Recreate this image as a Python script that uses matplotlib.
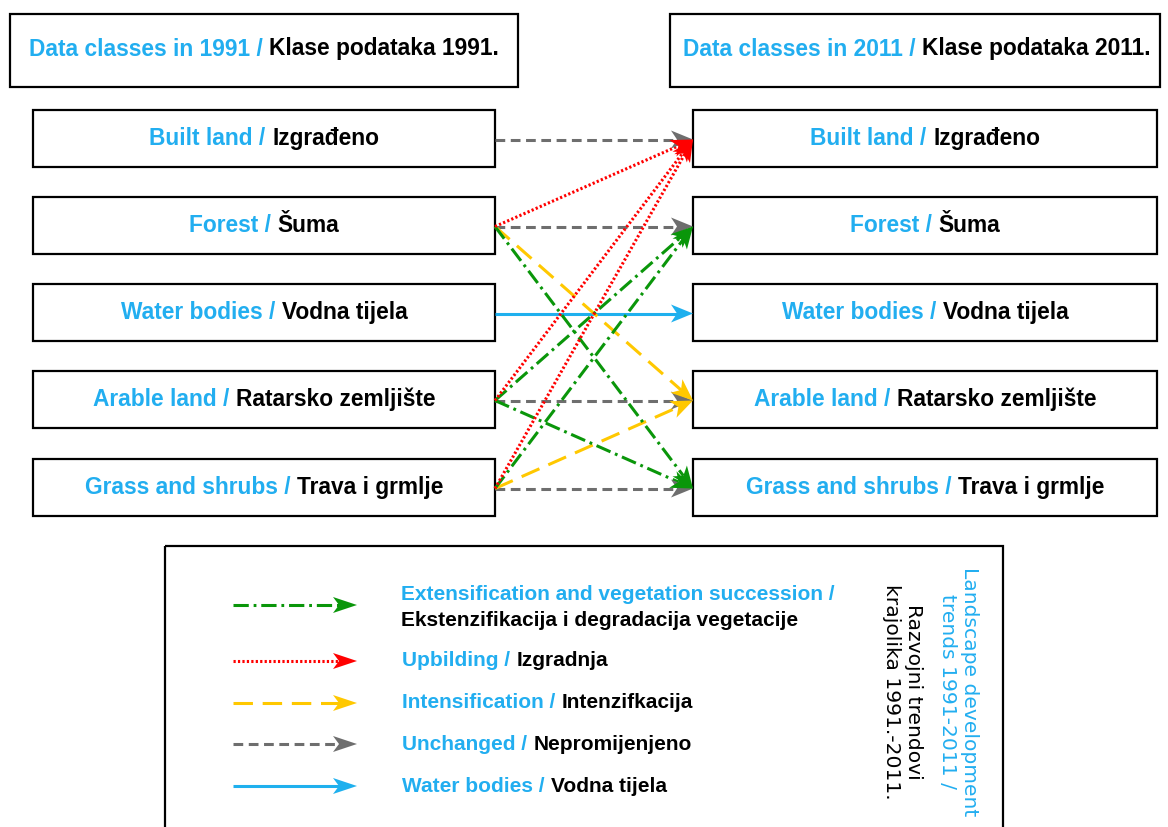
import numpy as np
import matplotlib
matplotlib.use("Agg")
import matplotlib.pyplot as plt
from matplotlib.patches import Rectangle, Polygon

# ── Data ─────────────────────────────────────────────────────────────────────
classes_en = ["Built land", "Forest", "Water bodies", "Arable land", "Grass and shrubs"]
classes_hr = ["Izgrađeno", "Šuma", "Vodna tijela", "Ratarsko zemljište", "Trava i grmlje"]

header_en = ["Data classes in 1991", "Data classes in 2011"]
header_hr = ["Klase podataka 1991.", "Klase podataka 2011."]

# transitions 1991 -> 2011 (source index, target index, trend)
flow_src = [0, 1, 3, 4, 2, 1, 4, 1, 3, 3, 4, 1, 3, 4]
flow_dst = [0, 1, 3, 4, 2, 3, 3, 4, 1, 4, 1, 0, 0, 0]
flow_kind = ["unch", "unch", "unch", "unch", "water", "int", "int",
             "ext", "ext", "ext", "ext", "up", "up", "up"]

legend_kind = ["ext", "up", "int", "unch", "water"]
legend_en = ["Extensification and vegetation succession /", "Upbilding", "Intensification",
             "Unchanged", "Water bodies"]
legend_hr = ["Ekstenzifikacija i degradacija vegetacije", "Izgradnja", "Intenzifkacija",
             "Nepromijenjeno", "Vodna tijela"]

side_en = "Landscape development\ntrends 1991-2011 /"
side_hr = "Razvojni trendovi\nkrajolika 1991.-2011."

# ── Styles ───────────────────────────────────────────────────────────────────
BLUE = "#22aef0"
styles = {
    "ext": dict(color="#0a960a", ls=(0, (11, 3.5, 2, 3.5))),
    "up": dict(color="#ff0000", ls=(0, (1.6, 1.6))),
    "int": dict(color="#ffc800", ls=(0, (14, 7))),
    "unch": dict(color="#6e6e6e", ls=(0, (7, 4))),
    "water": dict(color="#1fb0ee", ls="-"),
}
draw_order = ["unch", "water", "int", "ext", "up"]

plt.rcParams.update({
    "lines.scale_dashes": False,
    "font.family": ["Liberation Sans", "DejaVu Sans"],
})

W, H = 1168, 827
fig = plt.figure(figsize=(W / 100, H / 100), dpi=100)
ax = fig.add_axes([0, 0, 1, 1])
ax.set_xlim(0, W)
ax.set_ylim(H, 0)
ax.axis("off")
renderer = fig.canvas.get_renderer()

# ── Layout (pixels) ──────────────────────────────────────────────────────────
left_x0, left_x1 = 33, 495
right_x0, right_x1 = 693, 1157
row_top = [110, 197, 284, 371, 459]
row_h = 57
row_cy = [t + row_h / 2 for t in row_top]


def box(x0, y0, x1, y1, lw=1.6):
    ax.add_patch(Rectangle((x0, y0), x1 - x0, y1 - y0, fill=False,
                           edgecolor="black", linewidth=lw, zorder=2))


def two_tone(x, y, a, b, size=16.4, center=True, **kw):
    t1 = ax.text(x, y, a, color=BLUE, ha="left", va="center", fontsize=size,
                 fontweight="bold", **kw)
    t2 = ax.text(x, y, b, color="black", ha="left", va="center", fontsize=size,
                 fontweight="bold", **kw)
    w1 = t1.get_window_extent(renderer).width
    w2 = t2.get_window_extent(renderer).width
    gap = size * 0.30 * 100 / 72
    start = x - (w1 + gap + w2) / 2 if center else x
    t1.set_x(start)
    t2.set_x(start + w1 + gap)


def arrow(x0, y0, x1, y1, kind, lw=2.2, head_len=22, head_w=9, notch=6):
    st = styles[kind]
    d = np.array([x1 - x0, y1 - y0], dtype=float)
    L = np.hypot(*d)
    u = d / L
    n = np.array([-u[1], u[0]])
    tip = np.array([x1, y1], dtype=float)
    base = tip - u * head_len
    notch_pt = base + u * notch
    ax.plot([x0, notch_pt[0]], [y0, notch_pt[1]], color=st["color"], lw=lw,
            linestyle=st["ls"], solid_capstyle="butt", dash_capstyle="butt", zorder=3)
    ax.add_patch(Polygon([tip, base + n * head_w, notch_pt, base - n * head_w],
                         closed=True, facecolor=st["color"], edgecolor="none", zorder=4))


# headers
box(10, 14, 518, 87)
box(670, 14, 1160, 87)
two_tone(264, 49, header_en[0] + " /", header_hr[0])
two_tone(917, 49, header_en[1] + " /", header_hr[1])

# class boxes
for i, (en, hr) in enumerate(zip(classes_en, classes_hr)):
    box(left_x0, row_top[i], left_x1, row_top[i] + row_h)
    box(right_x0, row_top[i], right_x1, row_top[i] + row_h)
    two_tone((left_x0 + left_x1) / 2, row_cy[i], en + " /", hr)
    two_tone((right_x0 + right_x1) / 2, row_cy[i], en + " /", hr)

# flows
for kind in draw_order:
    for s, d, k in zip(flow_src, flow_dst, flow_kind):
        if k == kind:
            arrow(left_x1, row_cy[s] + 1, right_x0, row_cy[d] + 1, k)

# legend box (bottom runs off the figure)
ax.add_patch(Rectangle((165, 546), 838, 320, fill=False, edgecolor="black",
                       linewidth=1.6, zorder=2))
leg_y = [605, 661, 703, 744, 786]
for y, kind, en, hr in zip(leg_y, legend_kind, legend_en, legend_hr):
    arrow(233, y, 357, y, kind, head_len=24, head_w=8, notch=6)
    if kind == "ext":
        ax.text(401, 594, en, color=BLUE, ha="left", va="center", fontsize=15,
                fontweight="bold")
        ax.text(401, 620, hr, color="black", ha="left", va="center", fontsize=15,
                fontweight="bold")
    else:
        two_tone(402, y, en + " /", hr, size=15, center=False)

ax.text(958, 692, side_en, color=BLUE, rotation=-90, ha="center", va="center",
        multialignment="center", fontsize=14.6, family="DejaVu Sans", linespacing=1.2)
ax.text(902, 692, side_hr, color="black", rotation=-90, ha="center", va="center",
        multialignment="center", fontsize=14.6, family="DejaVu Sans", linespacing=1.2)

fig.savefig("out.png", dpi=100)
